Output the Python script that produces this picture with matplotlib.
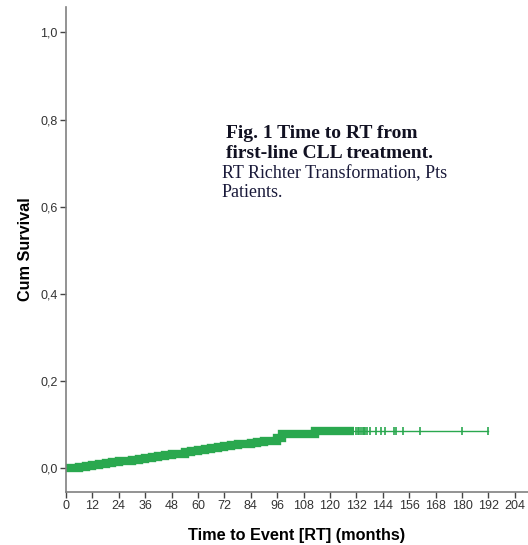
import numpy as np
import matplotlib
matplotlib.use("Agg")
import matplotlib.pyplot as plt

# Kaplan-Meier style cumulative curve
event_months = [0, 3, 6, 9, 12, 15, 18, 21, 24, 27, 30, 33, 36, 39, 42, 45, 48,
                51, 54, 57, 60, 63, 66, 69, 72, 75, 78, 81, 84, 87, 90, 93, 96,
                98, 113]
cum_event = [0.000, 0.002, 0.004, 0.006, 0.008, 0.010, 0.012, 0.014, 0.016,
             0.018, 0.020, 0.022, 0.024, 0.026, 0.028, 0.030, 0.032, 0.034,
             0.037, 0.040, 0.042, 0.045, 0.047, 0.049, 0.051, 0.053, 0.055,
             0.057, 0.059, 0.060, 0.062, 0.064, 0.069, 0.079, 0.086]
dense_until = 131        # censoring so dense it reads as a band
last_month = 192
censor_months = [132, 132.5, 133, 134, 135, 135.5, 136, 137, 138, 141, 143,
                 145, 149, 150, 153, 161, 180, 192]

xticks = list(range(0, 205, 12))
yticks = [0.0, 0.2, 0.4, 0.6, 0.8, 1.0]

green = "#2aa84f"

fig = plt.figure(figsize=(5.28, 5.45), dpi=100)
ax = fig.add_axes([66 / 528, 1 - 492 / 545, 1 - 66 / 528, (492 - 7) / 545])

t = np.array(event_months + [dense_until])
c = np.array(cum_event + [cum_event[-1]])
ax.step(t, c, where="post", color=green, lw=6, solid_capstyle="butt",
        solid_joinstyle="miter")
ax.plot([dense_until, last_month], [cum_event[-1], cum_event[-1]],
        color=green, lw=1)
ax.plot(censor_months, [cum_event[-1]] * len(censor_months), ls="none",
        marker="|", ms=5.5, mew=1.2, color=green)

ax.set_xlim(0, 210)
ax.set_ylim(-0.054, 1.058)
ax.set_xticks(xticks)
ax.set_yticks(yticks)
ax.set_xticklabels([str(v) for v in xticks])
ax.set_yticklabels([("%.1f" % v).replace(".", ",") for v in yticks])

for s in ["top", "right"]:
    ax.spines[s].set_visible(False)
for s in ["left", "bottom"]:
    ax.spines[s].set_color("#808080")
    ax.spines[s].set_linewidth(1.2)
ax.tick_params(direction="out", length=4, width=1, color="#444444",
               labelsize=9, labelcolor="#333333", pad=2)
for lab in ax.get_xticklabels() + ax.get_yticklabels():
    lab.set_family("Liberation Sans")

ax.set_xlabel("Time to Event [RT] (months)", fontsize=11.7, fontweight="bold",
              family="Liberation Sans", labelpad=11)
ax.set_ylabel("Cum Survival", fontsize=11.7, fontweight="bold",
              family="Liberation Sans", labelpad=5)

# caption pasted over the plot area
fig.text(226 / 528, 1 - 138 / 545, "Fig. 1 Time to RT from", fontsize=14,
         fontweight="bold", family="Liberation Serif", color="#111122")
fig.text(226 / 528, 1 - 158 / 545, "first-line CLL treatment.", fontsize=14,
         fontweight="bold", family="Liberation Serif", color="#111122")
fig.text(222 / 528, 1 - 178 / 545, "RT Richter Transformation, Pts",
         fontsize=13, family="Liberation Serif", color="#1a1a3a")
fig.text(222 / 528, 1 - 197 / 545, "Patients.", fontsize=13,
         family="Liberation Serif", color="#1a1a3a")

fig.savefig("out.png", dpi=100)
